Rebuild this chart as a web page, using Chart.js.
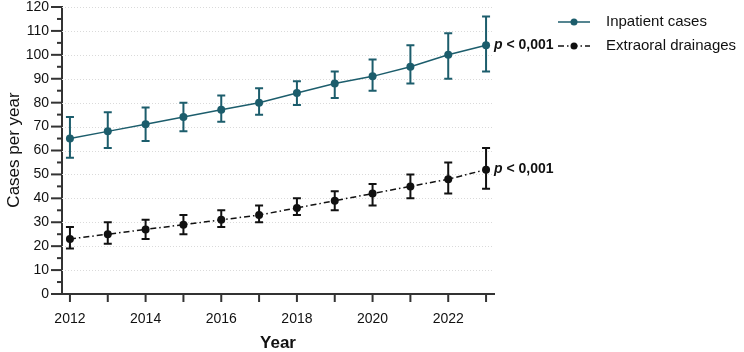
<!DOCTYPE html>
<html>
<head>
<meta charset="utf-8">
<script src="https://cdn.jsdelivr.net/npm/chart.js@4.4.1/dist/chart.umd.min.js"></script>
<style>
  html, body { margin: 0; padding: 0; background: #fff; }
</style>
</head>
<body>
<canvas id="chart" width="744" height="352"></canvas>
<script>
const years = [2012, 2013, 2014, 2015, 2016, 2017, 2018, 2019, 2020, 2021, 2022, 2023];
const inpatient = [65, 68, 71, 74, 77, 80, 84, 88, 91, 95, 100, 104];
const inpatientLow = [57, 61, 64, 68, 72, 75, 79, 82, 85, 88, 90, 93];
const inpatientHigh = [74, 76, 78, 80, 83, 86, 89, 93, 98, 104, 109, 116];
const drainages = [23, 25, 27, 29, 31, 33, 36, 39, 42, 45, 48, 52];
const drainagesLow = [19, 21, 23, 25, 28, 30, 33, 35, 37, 40, 42, 44];
const drainagesHigh = [28, 30, 31, 33, 35, 37, 40, 43, 46, 50, 55, 61];
const yTicks = [0, 5, 10, 15, 20, 25, 30, 35, 40, 45, 50, 55, 60, 65, 70, 75, 80, 85, 90, 95, 100, 105, 110, 115, 120];
const yLabelTicks = [0, 10, 20, 30, 40, 50, 60, 70, 80, 90, 100, 110, 120];
const xLabelYears = [2012, 2014, 2016, 2018, 2020, 2022];
const seriesNames = ['Inpatient cases', 'Extraoral drainages'];
const pValue = '0,001';

const TEAL = '#1c5d6c';
const BLACK = '#111111';
const AXIS = '#333333';
const FONT = '"Liberation Sans", Arial, sans-serif';
const DASH_DOT = [6, 3, 1.5, 3];

const toPoints = (values) => values.map((v, i) => ({ x: years[i], y: v }));

// grid lines + tick marks, drawn under the data
const axisDecor = {
    id: 'axisDecor',
    beforeDatasetsDraw(chart) {
        const { ctx, chartArea, scales: { x, y } } = chart;
        ctx.save();
        ctx.strokeStyle = '#dadada';
        ctx.lineWidth = 1;
        ctx.setLineDash([1, 2]);
        yLabelTicks.forEach((v) => {
            if (v === 0) return;
            const py = Math.round(y.getPixelForValue(v)) + 0.5;
            ctx.beginPath();
            ctx.moveTo(chartArea.left, py);
            ctx.lineTo(chartArea.right, py);
            ctx.stroke();
        });
        ctx.setLineDash([]);
        ctx.strokeStyle = AXIS;
        ctx.lineWidth = 2;
        yTicks.forEach((v) => {
            const py = y.getPixelForValue(v);
            const len = v % 10 === 0 ? 11 : 5;
            ctx.beginPath();
            ctx.moveTo(chartArea.left, py);
            ctx.lineTo(chartArea.left - len, py);
            ctx.stroke();
        });
        years.forEach((yr) => {
            const px = x.getPixelForValue(yr);
            ctx.beginPath();
            ctx.moveTo(px, chartArea.bottom);
            ctx.lineTo(px, chartArea.bottom + 8);
            ctx.stroke();
        });
        ctx.restore();
    },
};

const errorBars = {
    id: 'errorBars',
    afterDatasetsDraw(chart) {
        const { ctx, scales: { x, y } } = chart;
        const sets = [
            [inpatientLow, inpatientHigh, TEAL],
            [drainagesLow, drainagesHigh, BLACK],
        ];
        ctx.save();
        ctx.lineWidth = 2;
        sets.forEach(([lo, hi, color]) => {
            ctx.strokeStyle = color;
            years.forEach((yr, i) => {
                const px = x.getPixelForValue(yr);
                const top = y.getPixelForValue(hi[i]);
                const bot = y.getPixelForValue(lo[i]);
                ctx.beginPath();
                ctx.moveTo(px, top);
                ctx.lineTo(px, bot);
                ctx.moveTo(px - 4, top);
                ctx.lineTo(px + 4, top);
                ctx.moveTo(px - 4, bot);
                ctx.lineTo(px + 4, bot);
                ctx.stroke();
            });
        });
        ctx.restore();
    },
};

const annotations = {
    id: 'annotations',
    afterDraw(chart) {
        const { ctx, chartArea, scales: { x, y } } = chart;
        ctx.save();
        ctx.fillStyle = BLACK;
        ctx.textBaseline = 'middle';

        // p values next to the last point
        const last = years.length - 1;
        [inpatient[last], drainages[last]].forEach((v) => {
            const px = x.getPixelForValue(years[last]) + 8;
            const py = y.getPixelForValue(v);
            ctx.font = 'italic bold 14px ' + FONT;
            ctx.fillText('p', px, py);
            const w = ctx.measureText('p ').width;
            ctx.font = 'bold 14px ' + FONT;
            ctx.fillText('< ' + pValue, px + w, py);
        });

        // legend
        const legend = [
            { y: 22, color: TEAL, dash: [] },
            { y: 46, color: BLACK, dash: DASH_DOT },
        ];
        legend.forEach((item, i) => {
            ctx.strokeStyle = item.color;
            ctx.lineWidth = 1.5;
            ctx.setLineDash(item.dash);
            ctx.beginPath();
            ctx.moveTo(558, item.y);
            ctx.lineTo(590, item.y);
            ctx.stroke();
            ctx.setLineDash([]);
            ctx.fillStyle = item.color;
            ctx.beginPath();
            ctx.arc(574, item.y, 3.5, 0, Math.PI * 2);
            ctx.fill();
            ctx.fillStyle = BLACK;
            ctx.font = '15px ' + FONT;
            ctx.fillText(seriesNames[i], 606, item.y);
        });

        // axis titles
        ctx.textAlign = 'center';
        ctx.font = 'bold 17px ' + FONT;
        ctx.fillText('Year', (chartArea.left + chartArea.right) / 2, 343);
        ctx.translate(14, 150);
        ctx.rotate(-Math.PI / 2);
        ctx.font = '17px ' + FONT;
        ctx.fillText('Cases per year', 0, 0);
        ctx.restore();
    },
};

new Chart(document.getElementById('chart'), {
    type: 'line',
    data: {
        datasets: [
            {
                label: seriesNames[0],
                data: toPoints(inpatient),
                borderColor: TEAL,
                backgroundColor: TEAL,
                borderWidth: 1.5,
                pointRadius: 4,
                pointBorderWidth: 0,
                tension: 0,
            },
            {
                label: seriesNames[1],
                data: toPoints(drainages),
                borderColor: BLACK,
                backgroundColor: BLACK,
                borderWidth: 1.5,
                borderDash: DASH_DOT,
                pointRadius: 4,
                pointBorderWidth: 0,
                tension: 0,
            },
        ],
    },
    options: {
        responsive: false,
        animation: false,
        devicePixelRatio: 1,
        layout: { padding: { top: 7, right: 250, left: 0, bottom: 0 } },
        plugins: {
            legend: { display: false },
            tooltip: { enabled: false },
        },
        scales: {
            x: {
                type: 'linear',
                min: 2011.79,
                max: 2023.21,
                afterBuildTicks: (scale) => { scale.ticks = years.map((v) => ({ value: v })); },
                afterFit: (scale) => {
                    scale.height = 58;
                    scale.paddingLeft = 0;
                    scale.paddingRight = 0;
                },
                grid: { display: false },
                border: { display: true, color: AXIS, width: 2 },
                ticks: {
                    padding: 9,
                    color: BLACK,
                    font: { family: FONT, size: 14 },
                    maxRotation: 0,
                    autoSkip: false,
                    callback: (v) => (xLabelYears.includes(v) ? String(v) : ''),
                },
            },
            y: {
                min: 0,
                max: 120,
                afterBuildTicks: (scale) => { scale.ticks = yTicks.map((v) => ({ value: v })); },
                afterFit: (scale) => {
                    scale.width = 62;
                    scale.paddingTop = 0;
                    scale.paddingBottom = 0;
                },
                grid: { display: false, drawTicks: false },
                border: { display: true, color: AXIS, width: 2 },
                ticks: {
                    padding: 13,
                    color: BLACK,
                    font: { family: FONT, size: 14 },
                    autoSkip: false,
                    callback: (v) => (yLabelTicks.includes(v) ? String(v) : ''),
                },
            },
        },
    },
    plugins: [axisDecor, errorBars, annotations],
});
</script>
</body>
</html>
